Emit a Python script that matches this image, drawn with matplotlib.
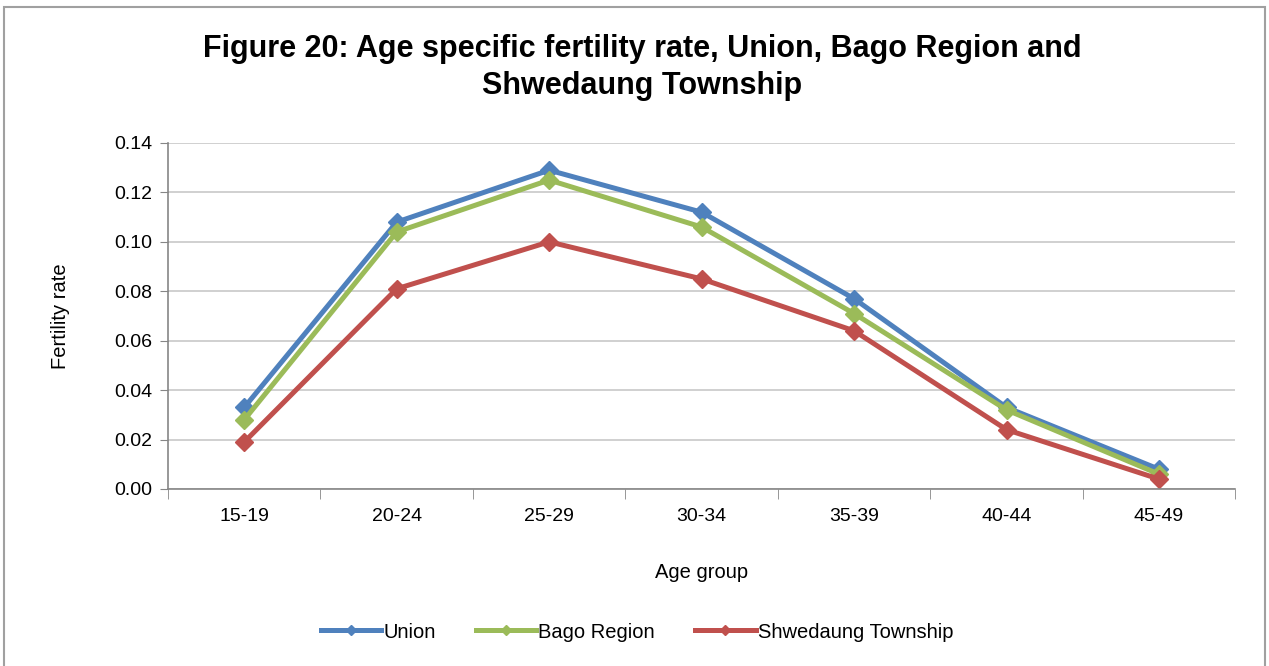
import matplotlib
matplotlib.use("Agg")
import matplotlib.pyplot as plt
from matplotlib.patches import Rectangle
import numpy as np

plt.rcParams['font.family'] = ['Liberation Sans', 'DejaVu Sans']

age_groups = ["15-19", "20-24", "25-29", "30-34", "35-39", "40-44", "45-49"]
union = [0.033, 0.108, 0.129, 0.112, 0.077, 0.033, 0.008]
bago = [0.028, 0.104, 0.125, 0.106, 0.071, 0.032, 0.006]
shwedaung = [0.019, 0.081, 0.100, 0.085, 0.064, 0.024, 0.004]
series_names = ["Union", "Bago Region", "Shwedaung Township"]
colors = ["#4F81BD", "#9BBB59", "#C0504D"]

fig = plt.figure(figsize=(12.69, 6.66), dpi=100)
fig.patches.append(Rectangle((0.003, -0.01), 0.994, 1.0, transform=fig.transFigure,
                             fill=False, edgecolor="#A0A0A0", linewidth=1.5))
ax = fig.add_axes([0.1324, 0.2658, 0.841, 0.5195])

x = np.arange(len(age_groups))
for vals, name, c in zip([union, bago, shwedaung], series_names, colors):
    ax.plot(x, vals, color=c, linewidth=3.6, marker="D", markersize=9,
            markeredgecolor=c, label=name)

ax.set_xlim(-0.5, len(age_groups) - 0.5)
ax.set_ylim(0, 0.14)
ax.set_yticks(np.arange(0, 0.141, 0.02))
ax.set_yticklabels([f"{v:.2f}" for v in np.arange(0, 0.141, 0.02)])
ax.set_xticks(x)
ax.set_xticklabels(age_groups)
ax.set_xticks(np.arange(-0.5, len(age_groups)), minor=True)
ax.tick_params(axis="x", which="major", length=0, pad=14, labelsize=14)
ax.tick_params(axis="x", which="minor", length=7, color="#868686", direction="out")
ax.tick_params(axis="y", length=6, color="#868686", labelsize=14, pad=5)
ax.grid(axis="y", color="#C8C8C8", linewidth=1.2)
ax.set_axisbelow(True)
for s in ["top", "right"]:
    ax.spines[s].set_visible(False)
for s in ["left", "bottom"]:
    ax.spines[s].set_color("#868686")
    ax.spines[s].set_linewidth(1.2)

ax.set_xlabel("Age group", fontsize=14.5, labelpad=27)
ax.set_ylabel("Fertility rate", fontsize=14.5, labelpad=32)

fig.text(0.506, 0.899, "Figure 20: Age specific fertility rate, Union, Bago Region and\nShwedaung Township",
         ha="center", va="center", fontsize=22, fontweight="bold", linespacing=1.3)

fig.legend(loc="center", bbox_to_anchor=(0.502, 0.051), ncol=3, frameon=False,
           fontsize=14.5, handlelength=3.0, handletextpad=0.1, columnspacing=2.0,
           markerscale=0.55)

fig.savefig("out.png", dpi=100)
